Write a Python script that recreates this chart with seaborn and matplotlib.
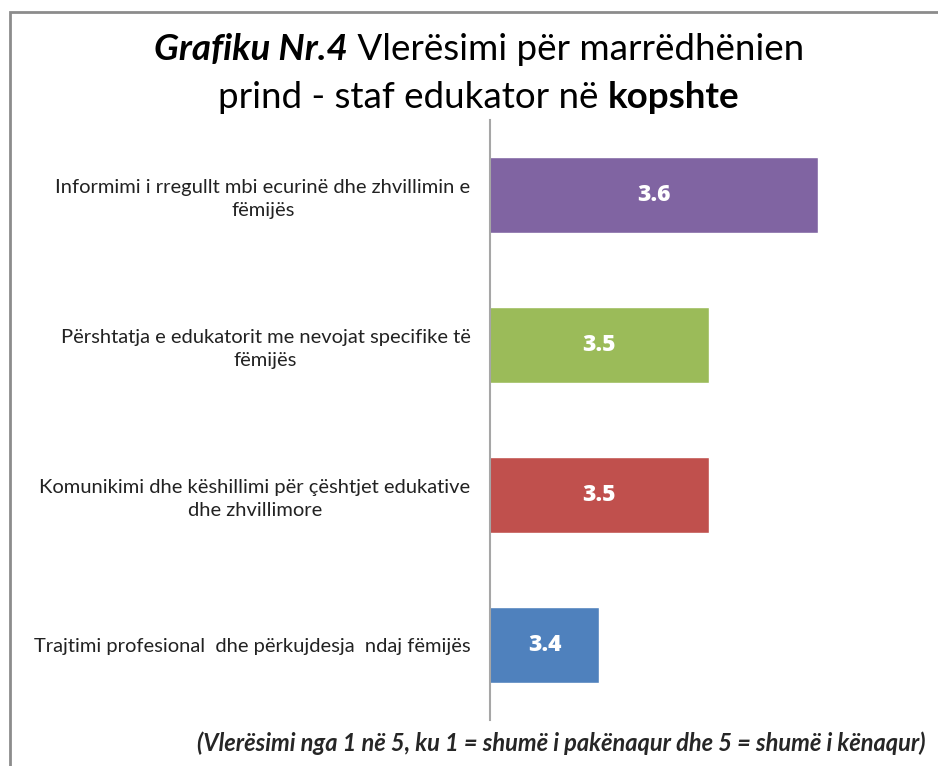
import matplotlib
matplotlib.use("Agg")
import matplotlib.pyplot as plt
import seaborn as sns
import pandas as pd

# data
categories = [
    "Informimi i rregullt mbi ecurinë dhe zhvillimin e\nfëmijës",
    "Përshtatja e edukatorit me nevojat specifike të\nfëmijës",
    "Komunikimi dhe këshillimi për çështjet edukative\ndhe zhvillimore",
    "Trajtimi profesional  dhe përkujdesja  ndaj fëmijës",
]
scores = [3.6, 3.5, 3.5, 3.4]
bar_colors = ["#8064A2", "#9BBB59", "#C0504D", "#4F81BD"]

df = pd.DataFrame({"Aspekti": categories, "Vleresimi": scores})

sns.set_theme(style="white")
plt.rcParams["font.family"] = ["Lato", "DejaVu Sans"]

fig = plt.figure(figsize=(9.38, 7.66), dpi=100)
ax = fig.add_axes([490 / 938, 46 / 766, 437 / 938, 600 / 766])

sns.barplot(data=df, x="Vleresimi", y="Aspekti", hue="Aspekti",
            palette=bar_colors, saturation=1, orient="h", width=0.51,
            legend=False, ax=ax)

ax.set_xlim(3.3, 3.7)
ax.set_ylim(3.5, -0.5)
ax.set_xlabel("")
ax.set_ylabel("")
ax.set_xticks([])
sns.despine(ax=ax, top=True, right=True, bottom=True, left=False)
ax.spines["left"].set_color("#A6A6A6")
ax.spines["left"].set_linewidth(1.5)
ax.tick_params(axis="y", length=0, pad=14)
for lbl in ax.get_yticklabels():
    lbl.set_fontsize(14.5)
    lbl.set_multialignment("center")
    lbl.set_linespacing(1.4)
    lbl.set_color("#222222")

for i, v in enumerate(scores):
    ax.text((3.3 + v) / 2, i, f"{v:.1f}", ha="center", va="center",
            color="white", fontsize=16.5, fontweight="heavy",
            family=["Open Sans", "DejaVu Sans"])

# outer frame like the original chart box
frame = plt.Rectangle((10 / 938, -0.1), 1.2, (766 - 12) / 766 + 0.1,
                      transform=fig.transFigure, fill=False,
                      edgecolor="#8C8C8C", linewidth=2, clip_on=False)
fig.patches.append(frame)


def rich_line(parts, y, size):
    # draw text pieces side by side, then center the whole line
    fig.canvas.draw()
    r = fig.canvas.get_renderer()
    texts = []
    x = 0
    for s, weight, style in parts:
        t = fig.text(x, y, s, fontsize=size, fontweight=weight, fontstyle=style,
                     ha="left", va="center", color="black")
        w = t.get_window_extent(renderer=r).width / fig.bbox.width
        texts.append((t, w))
        x += w
    start = 479 / 938 - x / 2
    for t, w in texts:
        t.set_x(start)
        start += w


rich_line([("Grafiku Nr.4", "bold", "italic"),
           (" Vlerësimi për marrëdhënien", "normal", "normal")],
          1 - 50 / 766, 26.5)
rich_line([("prind - staf edukator në ", "normal", "normal"),
           ("kopshte", "bold", "normal")],
          1 - 97 / 766, 26.5)

fig.text(925 / 938, 1 - 743 / 766,
         "(Vlerësimi nga 1 në 5, ku 1 = shumë i pakënaqur dhe 5 = shumë i kënaqur)",
         ha="right", va="center", fontsize=17, fontweight="bold", fontstyle="italic")

fig.savefig("out.png", dpi=100, facecolor="white")
